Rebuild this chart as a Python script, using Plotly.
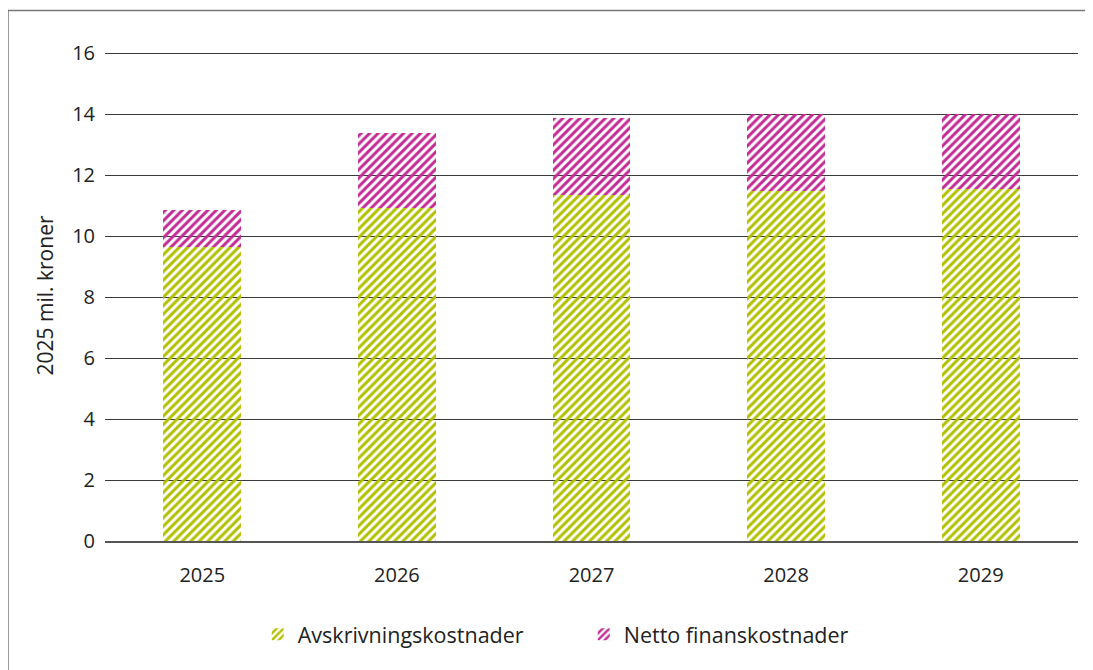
import plotly.graph_objects as go

years = ["2025", "2026", "2027", "2028", "2029"]
avskrivning = [9.64, 10.92, 11.34, 11.48, 11.54]
netto_finans = [1.21, 2.46, 2.53, 2.52, 2.46]

green = "#b3c000"
pink = "#c42a96"
font = "Open Sans"

fig = go.Figure()
for name, vals, col in [("Avskrivningskostnader", avskrivning, green),
                        ("Netto finanskostnader", netto_finans, pink)]:
    fig.add_trace(go.Bar(
        x=years, y=vals, name=name,
        marker=dict(color=col, line=dict(width=0),
                    pattern=dict(shape="/", fgcolor=col, bgcolor="rgba(255,255,255,0)",
                                 fgopacity=1, size=6, solidity=0.5)),
    ))

fig.update_layout(
    barmode="stack",
    bargap=0.6,
    width=1085, height=662,
    margin=dict(l=97, r=15, t=42, b=129),
    paper_bgcolor="white", plot_bgcolor="white",
    font=dict(family=font, size=20, color="#222222"),
    showlegend=True,
    legend=dict(orientation="h", x=0.157, y=-0.19, xanchor="left", yanchor="middle",
                font=dict(size=21.5, color="#222222"), entrywidth=281, entrywidthmode="pixels",
                traceorder="normal"),
    xaxis=dict(showgrid=False, ticks="", tickfont=dict(size=20), showline=True,
               linecolor="#555555", linewidth=1.5, ticklabelstandoff=15),
    yaxis=dict(range=[0, 16.1], dtick=2, showgrid=True, gridcolor="#3a3a3a", gridwidth=1,
               ticks="", tickfont=dict(size=20), zeroline=False, ticklabelstandoff=9,
               title=dict(text="2025 mil. kroner", font=dict(size=21), standoff=12)),
    shapes=[dict(type="rect", xref="paper", yref="paper", x0=-0.0997, x1=1.05, y0=-0.5, y1=1.0805,
                 line=dict(color="#777777", width=1.5), fillcolor="rgba(0,0,0,0)", layer="below")],
)

fig.write_html("out.html")
